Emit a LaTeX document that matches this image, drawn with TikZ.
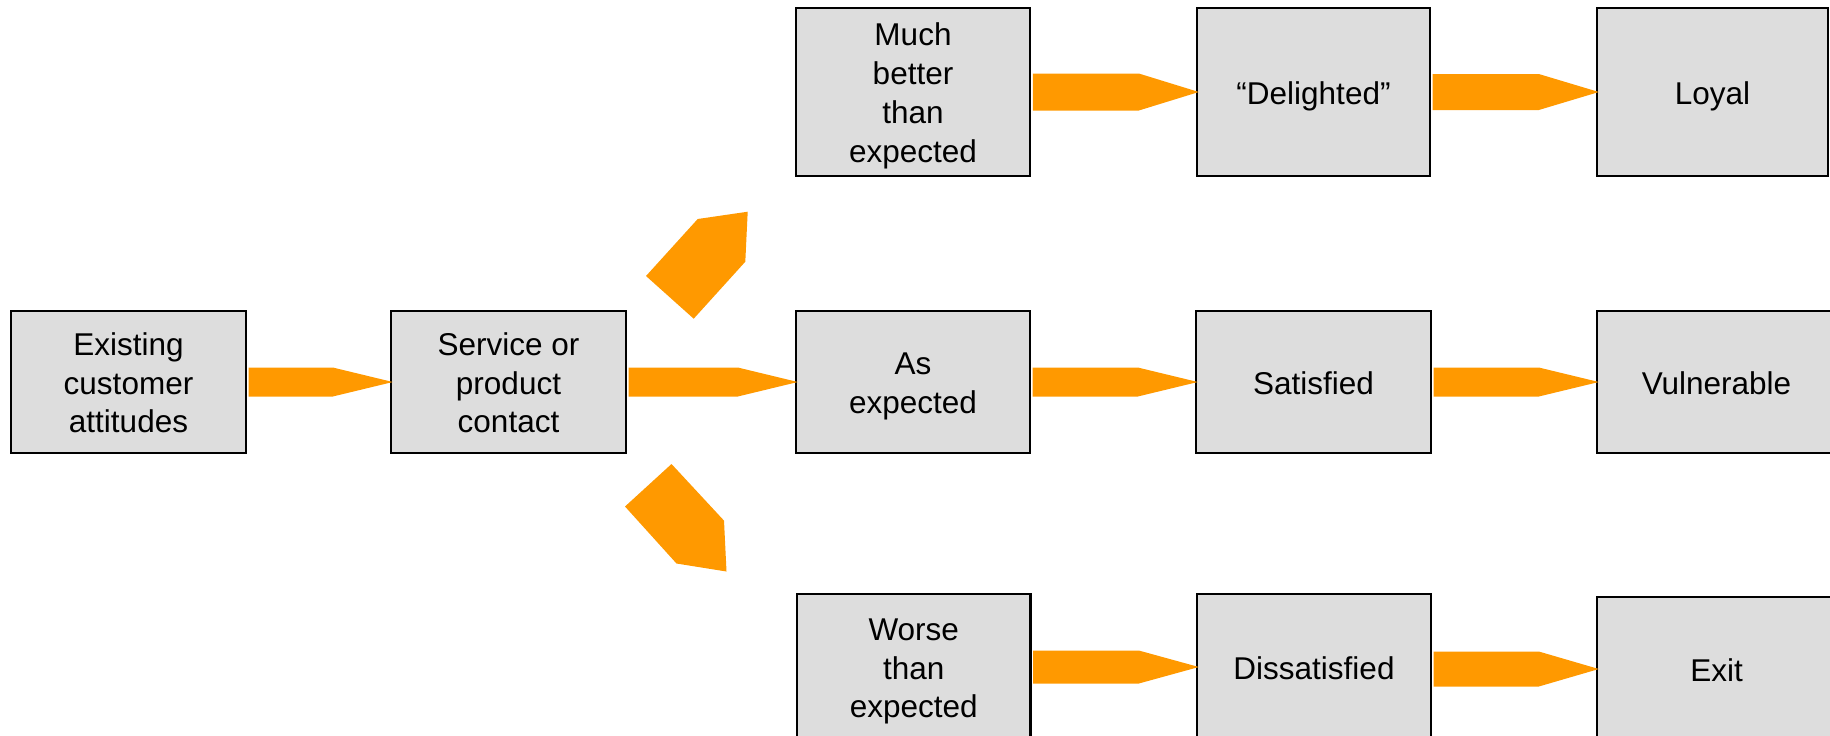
\documentclass[tikz,border=0pt]{standalone}
\usepackage{fontspec}
\setmainfont{Liberation Sans}
\usetikzlibrary{calc}
\definecolor{flowor}{RGB}{255,153,0}
\definecolor{boxgray}{RGB}{221,221,221}
% line strut (15.75pt above, 3.7pt below the baseline) so every box is centred on full line heights
\newcommand\linestrut{\rule[-3.7pt]{0pt}{19.45pt}}
\tikzset{
  stage/.style={draw=black, line width=1.2pt, fill=boxgray, inner sep=0pt,
    align=center, font=\fontsize{15.75pt}{19.45pt}\selectfont,
    execute at begin node=\linestrut, execute at end node=\linestrut},
  flow/.style={fill=flowor},
}
% block arrow from the east side of #1 to the west side of #2, body half height #3 (px units)
\newcommand\flowarrow[3]{%
  \fill[flow] ($(#1.east |- #2.west)+(1.5,-#3)$) -- ($(#2.west)+(-57,-#3)$)
    -- ($(#2.west)+(3,0)$) -- ($(#2.west)+(-57,#3)$)
    -- ($(#1.east |- #2.west)+(1.5,#3)$) -- cycle;}

\begin{document}
\begin{tikzpicture}[x=0.5pt,y=-0.5pt]
\useasboundingbox (0,0) rectangle (1830,735);
\clip (0,0) rectangle (1830,735);

% left column
\node[stage, minimum width=117.5pt, minimum height=71pt] (exist) at (128.5,382)
  {\linestrut Existing\\customer\\attitudes\linestrut};
\node[stage, minimum width=117.5pt, minimum height=71pt] (contact) at (508.5,382)
  {\linestrut Service or\\product\\contact\linestrut};

% top row
\node[stage, minimum width=117.25pt, minimum height=84pt] (much) at (913,92)
  {\linestrut Much\\better\\than\\expected\linestrut};
\node[stage, minimum width=116.5pt, minimum height=84pt] (delight) at (1313.5,92) {“Delighted”};
\node[stage, minimum width=115.5pt, minimum height=84pt] (loyal) at (1712.5,92) {Loyal};

% middle row
\node[stage, minimum width=117pt, minimum height=71pt] (asexp) at (913,382)
  {\linestrut As\\expected\linestrut};
\node[stage, minimum width=117.5pt, minimum height=71pt] (satis) at (1313.5,382) {Satisfied};
\node[stage, minimum width=119.5pt, minimum height=71pt] (vuln) at (1716.5,382) {Vulnerable};

% bottom row
\node[stage, minimum width=116.75pt, minimum height=73pt] (worse) at (913.75,667)
  {\linestrut Worse\\than\\expected\linestrut};
\node[stage, minimum width=117pt, minimum height=73pt] (dissat) at (1314,667) {Dissatisfied};
\node[stage, minimum width=119.5pt, minimum height=72pt] (exit) at (1716.5,669) {Exit};

% horizontal flow arrows
\flowarrow{exist}{contact}{14.5}
\flowarrow{contact}{asexp}{14.5}
\flowarrow{much}{delight}{18.5}
\flowarrow{delight}{loyal}{18}
\flowarrow{asexp}{satis}{14.5}
\flowarrow{satis}{vuln}{14.5}
\flowarrow{worse}{dissat}{16.5}
\flowarrow{dissat}{exit}{17.5}

% branching arrows towards the upper and lower outcomes
\coordinate (up1) at (646,276);
\coordinate (up2) at (697.7,219);
\coordinate (up3) at (747.7,211.7);
\coordinate (up4) at (745.3,261.7);
\coordinate (up5) at (693.7,318.7);
\fill[flow] (up1) -- (up2) -- (up3) -- (up4) -- (up5) -- cycle;

\coordinate (dn1) at (625,506.5);
\coordinate (dn2) at (671.5,464);
\coordinate (dn3) at (724,520.6);
\coordinate (dn4) at (726.5,571.5);
\coordinate (dn5) at (676.5,563.5);
\fill[flow] (dn1) -- (dn2) -- (dn3) -- (dn4) -- (dn5) -- cycle;
\end{tikzpicture}
\end{document}
